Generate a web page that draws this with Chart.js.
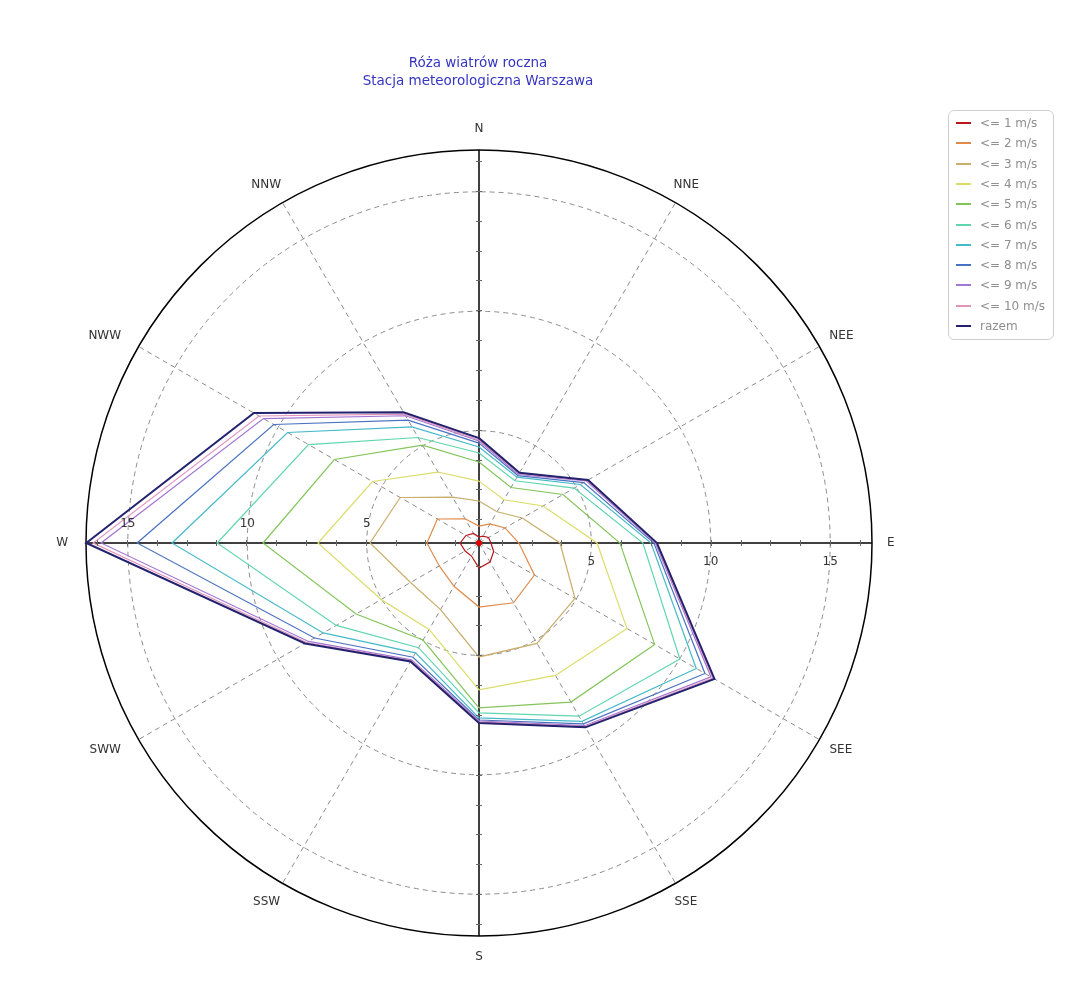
<!DOCTYPE html>
<html lang="pl">
<head>
<meta charset="UTF-8">
<title>Róża wiatrów roczna</title>
<script src="https://cdn.jsdelivr.net/npm/chart.js@4.4.0/dist/chart.umd.min.js"></script>
<style>
    body { margin: 0; background: #fff; font-family: "DejaVu Sans", sans-serif; }
    #wrap { position: relative; width: 1080px; height: 994px; }
    #tytul { position: absolute; left: 0; top: 53px; width: 956px; text-align: center;
             color: #3535c2; font-size: 13.5px; line-height: 18px; }
    #legenda { position: absolute; left: 948px; top: 110px; width: 106px; height: 230px;
               border: 1px solid #cfcfcf; border-radius: 6px; box-sizing: border-box; }
    .poz { position: absolute; left: 0; height: 14px; display: flex; align-items: center;
           font-size: 12px; color: #8e8e8e; white-space: nowrap; }
    .poz i { display: inline-block; width: 15px; height: 2px; margin-left: 7px; margin-right: 9px; }
    canvas { position: absolute; left: 0; top: 0; }
</style>
</head>
<body>
<div id="wrap">
    <canvas id="roza" width="1080" height="994"></canvas>
    <div id="tytul">Róża wiatrów roczna<br>Stacja meteorologiczna Warszawa</div>
    <div id="legenda"></div>
</div>

<script>
    // kierunki w kolejności zgodnej z ruchem wskazówek zegara, od N
    const kierunki = ['N', 'NNE', 'NEE', 'E', 'SEE', 'SSE', 'S', 'SSW', 'SWW', 'W', 'NWW', 'NNW'];

    // częstości skumulowane dla kolejnych prędkości wiatru
    const do1  = [0.55, 0.63, 0.76, 0.80, 1.01, 1.22, 1.35, 0.93, 0.97, 1.09, 0.93, 0.76];
    const do2  = [1.01, 1.22, 1.56, 1.97, 2.98, 3.19, 2.98, 2.39, 2.22, 2.48, 2.31, 1.47];
    const do3  = [2.06, 1.81, 2.39, 3.69, 4.94, 5.15, 5.07, 3.52, 3.61, 4.86, 4.11, 2.52];
    const do4  = [2.89, 2.39, 3.40, 5.24, 7.45, 6.70, 6.45, 4.48, 5.03, 7.04, 5.45, 3.73];
    const do5  = [3.69, 2.98, 4.36, 6.20, 8.79, 7.99, 7.20, 4.99, 6.24, 9.34, 7.29, 5.03];
    const do6  = [4.07, 3.31, 4.90, 7.16, 10.01, 8.67, 7.41, 5.36, 7.20, 11.26, 8.54, 5.40];
    const do7  = [4.32, 3.48, 5.20, 7.50, 10.80, 8.92, 7.62, 5.61, 7.83, 13.15, 9.55, 5.91];
    const do8  = [4.48, 3.56, 5.36, 7.62, 11.22, 9.04, 7.71, 5.82, 8.25, 14.61, 10.22, 6.24];
    const do9  = [4.57, 3.61, 5.49, 7.68, 11.51, 9.13, 7.75, 5.95, 8.54, 16.12, 10.72, 6.45];
    const do10 = [4.61, 3.65, 5.53, 7.71, 11.60, 9.17, 7.79, 5.99, 8.63, 16.45, 10.93, 6.53];
    const razem = [4.69, 3.69, 5.57, 7.75, 11.68, 9.21, 7.83, 6.03, 8.71, 16.74, 11.18, 6.62];

    const nazwy = ['<= 1 m/s', '<= 2 m/s', '<= 3 m/s', '<= 4 m/s', '<= 5 m/s', '<= 6 m/s',
                   '<= 7 m/s', '<= 8 m/s', '<= 9 m/s', '<= 10 m/s', 'razem'];
    const serie = [do1, do2, do3, do4, do5, do6, do7, do8, do9, do10, razem];
    const kolory = ['#b8161b', '#e08a4a', '#c9ae6c', '#dcdc6a', '#84c55a', '#5fd6ae',
                    '#45b9c9', '#4a72c2', '#a276d4', '#e394bd', '#23226f'];

    const tickiOsi = [5, 10, 15];
    const skalaMin = 0.3;
    const skalaMax = 16.75;

    // legenda
    const legenda = document.getElementById('legenda');
    nazwy.forEach((n, i) => {
        const el = document.createElement('div');
        el.className = 'poz';
        el.style.top = Math.round(5 + i * 20.3) + 'px';
        el.innerHTML = '<i style="background:' + kolory[i] + '"></i>' + n.replace('<', '&lt;');
        legenda.appendChild(el);
    });

    // podziałka, etykiety kierunków, punkt ciszy
    const rozaPlugin = {
        id: 'rozaOpisy',
        afterDatasetsDraw(chart) {
            const s = chart.scales.r;
            const ctx = chart.ctx;
            const xc = s.xCenter, yc = s.yCenter;
            ctx.save();

            ctx.strokeStyle = '#666';
            ctx.lineWidth = 1;
            ctx.beginPath();
            for (let v = 1.25; v < skalaMax; v += 1.25) {
                const d = Math.round(s.getDistanceFromCenterForValue(v)) + 0.5;
                ctx.moveTo(xc + d, yc - 3); ctx.lineTo(xc + d, yc + 3);
                ctx.moveTo(xc - d, yc - 3); ctx.lineTo(xc - d, yc + 3);
                ctx.moveTo(xc - 3, yc + d); ctx.lineTo(xc + 3, yc + d);
                ctx.moveTo(xc - 3, yc - d); ctx.lineTo(xc + 3, yc - d);
            }
            ctx.stroke();

            ctx.font = '12px "DejaVu Sans"';
            ctx.fillStyle = '#333';
            ctx.textAlign = 'center';
            ctx.textBaseline = 'middle';
            tickiOsi.forEach(t => {
                const d = s.getDistanceFromCenterForValue(t);
                ctx.fillText(String(t), xc - d, yc - 19);
                ctx.fillText(String(t), xc + d, yc + 19);
            });

            // etykiety kierunków: pionowo na stałym promieniu, poziomo odsunięte o pół szerokości tekstu
            kierunki.forEach((k, i) => {
                const a = s.getIndexAngle(i);
                const w = ctx.measureText(k).width;
                const sn = Math.sin(a);
                let rx = s.drawingArea + 15 + Math.abs(sn) * w / 2;
                if (sn < -0.1) rx += Math.abs(sn) > 0.99 ? 3 : 10;
                const px = s.getPointPosition(i, rx).x;
                const py = s.getPointPosition(i, s.drawingArea + 21).y;
                ctx.fillText(k, px, py);
            });

            ctx.fillStyle = '#e00000';
            ctx.beginPath();
            ctx.arc(xc, yc, 3, 0, Math.PI * 2);
            ctx.fill();
            ctx.restore();
        }
    };

    const ctx = document.getElementById('roza').getContext('2d');
    new Chart(ctx, {
        type: 'radar',
        data: {
            labels: kierunki,
            datasets: serie.map((d, i) => ({
                label: nazwy[i],
                data: d,
                borderColor: kolory[i],
                backgroundColor: kolory[i],
                borderWidth: i === 10 ? 2 : 1.2,
                fill: false,
                pointRadius: 0,
                tension: 0,
                order: -i
            }))
        },
        options: {
            responsive: false,
            animation: false,
            layout: { padding: { left: 86, right: 208, top: 150, bottom: 58 } },
            plugins: { legend: { display: false }, title: { display: false }, tooltip: { enabled: false } },
            scales: {
                r: {
                    min: skalaMin,
                    max: skalaMax,
                    ticks: { display: false },
                    afterBuildTicks: (sc) => {
                        sc.ticks = [skalaMin, ...tickiOsi, skalaMax].map(v => ({ value: v }));
                    },
                    pointLabels: { display: false },
                    grid: {
                        circular: true,
                        color: c => c.tick.value >= skalaMax ? '#000' : '#8c8c8c',
                        lineWidth: c => c.tick.value >= skalaMax ? 1.5 : 1
                    },
                    border: { dash: c => (c.tick && c.tick.value >= skalaMax) ? [] : [5, 4] },
                    angleLines: {
                        color: c => c.index % 3 === 0 ? '#000' : '#8c8c8c',
                        lineWidth: c => c.index % 3 === 0 ? 1.5 : 1,
                        borderDash: c => c.index % 3 === 0 ? [] : [5, 4]
                    }
                }
            }
        },
        plugins: [rozaPlugin]
    });
</script>
</body>
</html>
